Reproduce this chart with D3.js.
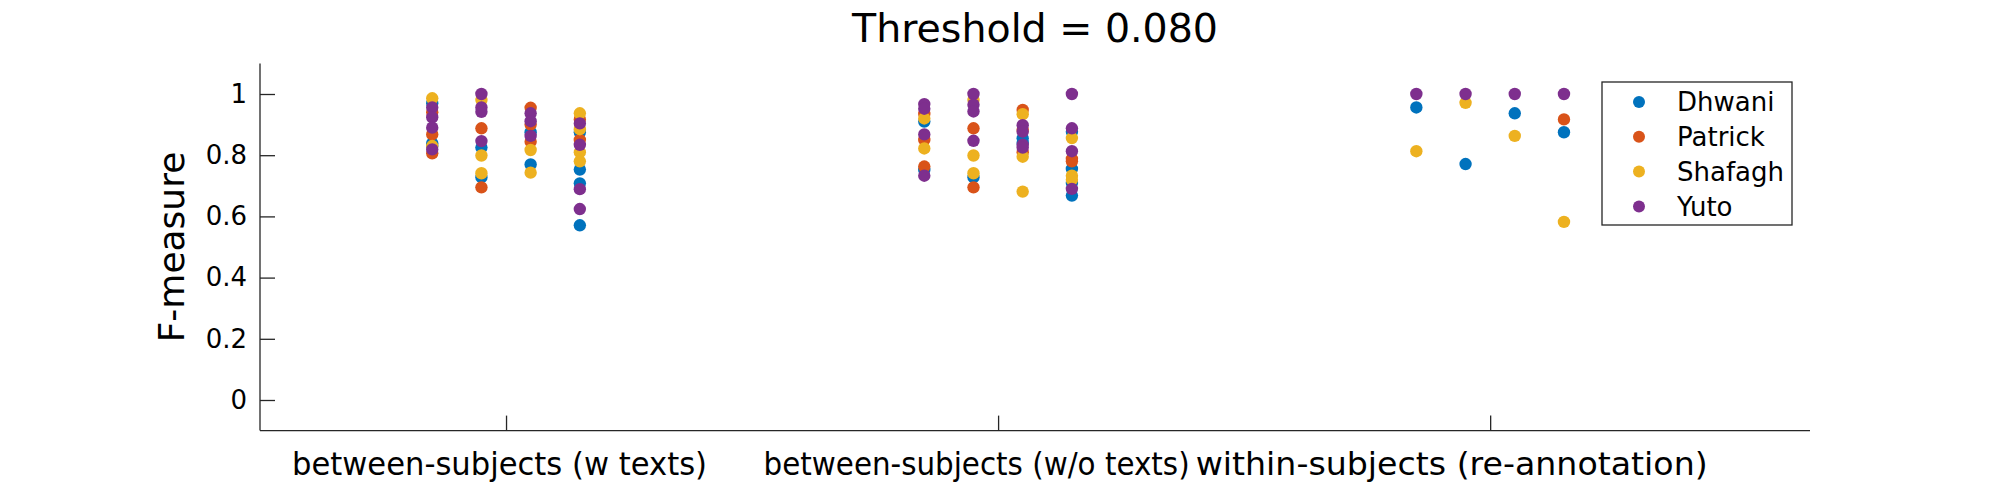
<!DOCTYPE html>
<html>
<head>
<meta charset="utf-8">
<script src="https://cdn.jsdelivr.net/npm/d3@7"></script>
<style>
  html, body { margin: 0; padding: 0; background: #fff; }
  svg { display: block; }
  text { font-family: "DejaVu Sans", "Liberation Sans", sans-serif; fill: #000; }
</style>
</head>
<body>
<svg id="chart" width="2000" height="484"></svg>
<script>
// ---------------- data ----------------
const groups = ["between-subjects (w texts)", "between-subjects (w/o texts)", "within-subjects (re-annotation)"];
const annotators = ["Dhwani", "Patrick", "Shafagh", "Yuto"];
const columnOffsets = [-0.15, -0.05, 0.05, 0.15];
const yTicks = [0, 0.2, 0.4, 0.6, 0.8, 1];
const titleText = "Threshold = 0.080";
const yLabel = "F-measure";

// each series: 12 columns (3 groups x 4 columns), values of F-measure
const dhwani = [
  [0.970, 0.839, 0.830], [0.825, 0.728], [0.875, 0.770], [0.875, 0.753, 0.708, 0.571],
  [0.910, 0.752], [0.728], [0.855, 0.840], [0.877, 0.755, 0.709, 0.668],
  [0.956], [0.771], [0.937], [0.875]
];
const patrick = [
  [0.940, 0.868, 0.806], [0.888, 0.695], [0.955, 0.900, 0.844], [0.917, 0.850],
  [0.935, 0.850, 0.763], [0.888, 0.695], [0.948, 0.882, 0.810], [0.788, 0.780],
  [], [], [], [0.917]
];
const shafagh = [
  [0.986, 0.830], [0.980, 0.799, 0.741], [0.817, 0.743], [0.937, 0.885, 0.810, 0.780],
  [0.920, 0.822], [0.980, 0.799, 0.741], [0.934, 0.795, 0.681], [0.856, 0.733, 0.720],
  [0.813], [0.971], [0.863], [0.582]
];
const yuto = [
  [0.956, 0.924, 0.890, 0.819], [1.000, 0.956, 0.942, 0.846], [0.937, 0.911, 0.863], [0.904, 0.834, 0.689, 0.624],
  [0.967, 0.952, 0.868, 0.733], [1.000, 0.965, 0.943, 0.847], [0.898, 0.877, 0.834, 0.825], [1.000, 0.888, 0.813, 0.690],
  [1.000], [1.000], [1.000], [1.000]
];
const seriesValues = [dhwani, patrick, shafagh, yuto];
const colors = ["#0072BD", "#D95319", "#EDB120", "#7E2F8E"];

// ---------------- layout ----------------
const svg = d3.select("#chart");
const axisColor = "#262626";
const plot = { left: 260, right: 1810, top: 63.4, bottom: 430.6 };
// rendered widths / nudges of the category labels (font metrics of original differ)
const labelWidths = [415, 426, 512];
const labelNudge = [-7, -22, -39];

const x = d3.scaleLinear().domain([0.5, 3.65]).range([plot.left, plot.right]);
const y = d3.scaleLinear().domain([-0.1, 1.1]).range([plot.bottom, plot.top]);

// title
svg.append("text")
  .attr("x", (plot.left + plot.right) / 2)
  .attr("y", 42)
  .attr("text-anchor", "middle")
  .style("font-size", "39.5px")
  .text(titleText);

// y axis
const yAxis = d3.axisLeft(y).tickValues(yTicks).tickSize(-15).tickPadding(13)
  .tickFormat(d => d === 0 || d === 1 ? String(d) : d3.format(".1f")(d));
const gy = svg.append("g").attr("transform", `translate(${plot.left},0)`).call(yAxis);
gy.select(".domain").attr("stroke", axisColor).attr("stroke-width", 1.3)
  .attr("d", `M0,${plot.bottom}V${plot.top}`);
gy.selectAll(".tick line").attr("stroke", axisColor).attr("stroke-width", 1.3);
gy.selectAll(".tick text").style("font-size", "26px").attr("fill", "#000")
  .style("font-family", '"DejaVu Sans", sans-serif');

// x axis
const xAxis = d3.axisBottom(x).tickValues([1, 2, 3]).tickSize(-15).tickPadding(0)
  .tickFormat(d => groups[d - 1]);
const gx = svg.append("g").attr("transform", `translate(0,${plot.bottom})`).call(xAxis);
gx.select(".domain").attr("stroke", axisColor).attr("stroke-width", 1.3)
  .attr("d", `M${plot.left},0H${plot.right}`);
gx.selectAll(".tick line").attr("stroke", axisColor).attr("stroke-width", 1.3);
gx.selectAll(".tick text").style("font-size", "31.5px").attr("fill", "#000")
  .attr("dy", null).attr("y", 44)
  .attr("x", (d, i) => labelNudge[i])
  .attr("textLength", (d, i) => labelWidths[i])
  .attr("lengthAdjust", "spacingAndGlyphs")
  .style("font-family", '"DejaVu Sans", sans-serif');

// y label
svg.append("text")
  .attr("transform", `translate(184,${(plot.top + plot.bottom) / 2}) rotate(-90)`)
  .attr("text-anchor", "middle")
  .style("font-size", "36px")
  .text(yLabel);

// points
const points = [];
seriesValues.forEach((cols, s) => {
  cols.forEach((vals, c) => {
    const g = Math.floor(c / 4), k = c % 4;
    vals.forEach(v => points.push({ s, xv: g + 1 + columnOffsets[k], v }));
  });
});
svg.append("g").selectAll("circle").data(points).join("circle")
  .attr("cx", d => x(d.xv))
  .attr("cy", d => y(d.v))
  .attr("r", 6.2)
  .attr("fill", d => colors[d.s]);

// legend
const leg = { x: 1602, y: 82, w: 190, h: 143, row: 34.8, first: 20 };
const lg = svg.append("g");
lg.append("rect").attr("x", leg.x).attr("y", leg.y).attr("width", leg.w).attr("height", leg.h)
  .attr("fill", "#fff").attr("stroke", axisColor).attr("stroke-width", 1.3);
annotators.forEach((name, i) => {
  const cy = leg.y + leg.first + i * leg.row;
  lg.append("circle").attr("cx", leg.x + 37).attr("cy", cy).attr("r", 6).attr("fill", colors[i]);
  lg.append("text").attr("x", leg.x + 75).attr("y", cy).attr("dy", "0.36em")
    .style("font-size", "26px").text(name);
});
</script>
</body>
</html>
